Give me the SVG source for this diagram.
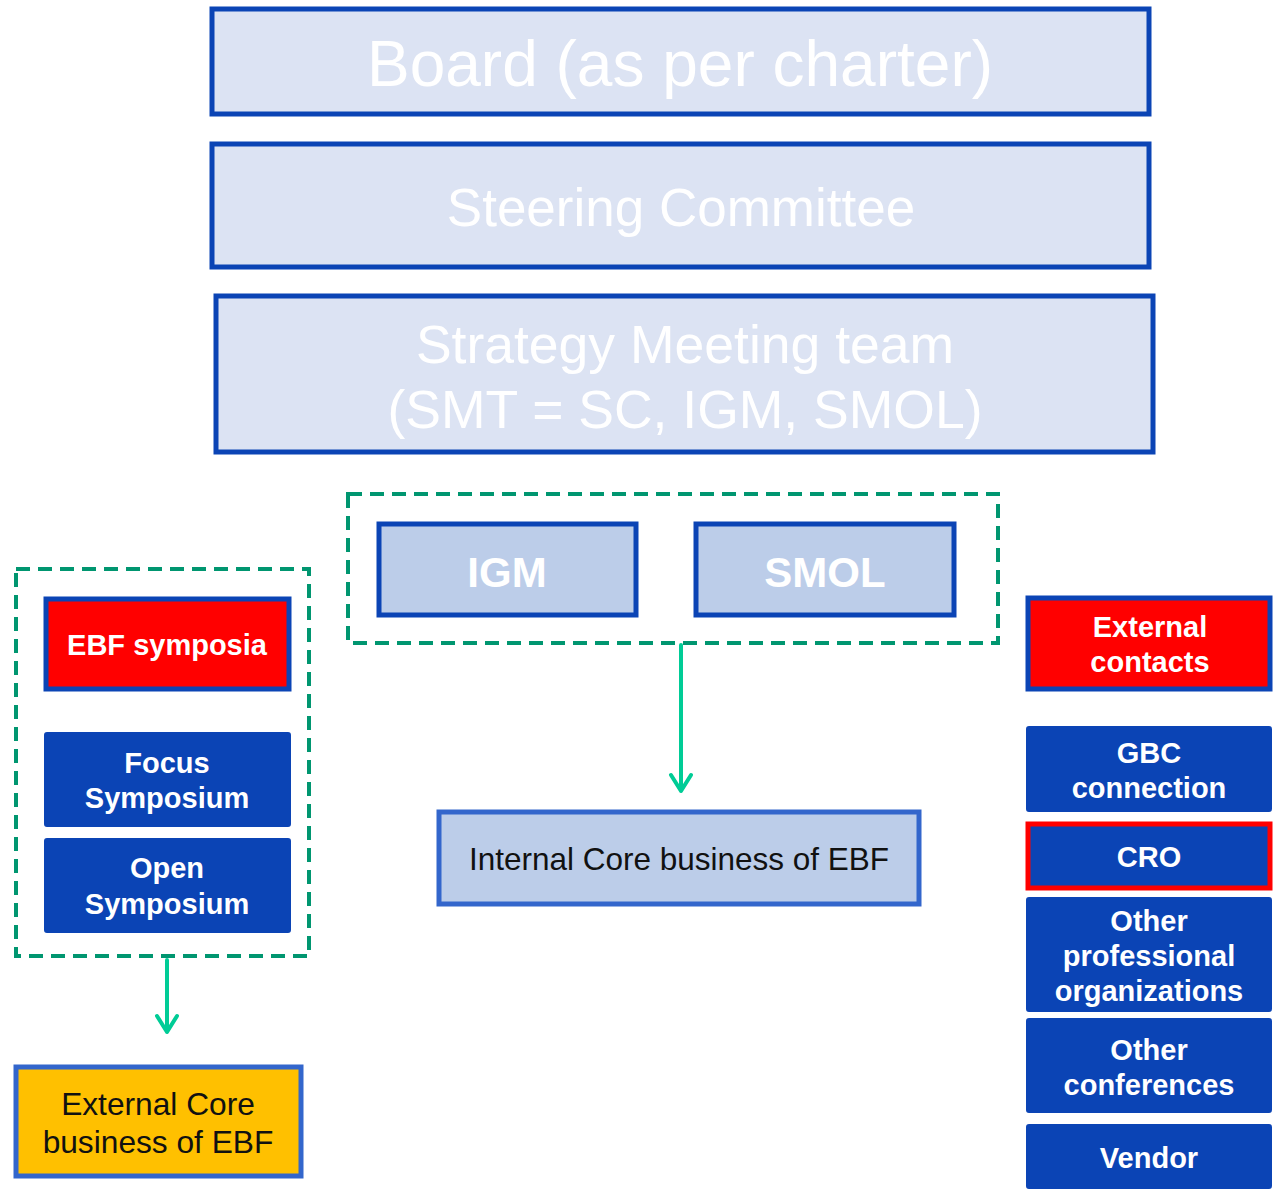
<svg xmlns="http://www.w3.org/2000/svg" width="1277" height="1190" viewBox="0 0 1277 1190">
<defs>
<style>
.big{fill:#dce3f3;stroke:#0b44b5;stroke-width:5}
.lt{fill:#bccde9;stroke:#0b44b5;stroke-width:5}
.bl{fill:#0b44b5;stroke:#0b44b5;stroke-width:2}
.rd{fill:#ff0000;stroke:#0b44b5;stroke-width:5}
.dash{fill:none;stroke:#009670;stroke-width:4;stroke-dasharray:14 8}
.wt{fill:#ffffff;font-family:"Liberation Sans",Arial,sans-serif;text-anchor:middle}
.wb{fill:#ffffff;font-family:"Liberation Sans",Arial,sans-serif;font-weight:bold;text-anchor:middle;font-size:29px}
.bk{fill:#111111;font-family:"Liberation Sans",Arial,sans-serif;text-anchor:middle}
.conn{fill:none;stroke:#00cc96;stroke-width:4;stroke-linecap:round;stroke-linejoin:round}
</style>
</defs>
<rect width="1277" height="1190" fill="#ffffff"/>
<g id="board"><rect class="big" x="212" y="9" width="937" height="105"/><text class="wt" x="680" y="86" font-size="64">Board (as per charter)</text></g>
<g id="steering"><rect class="big" x="212" y="144" width="937" height="123"/><text class="wt" x="681" y="226" font-size="53">Steering Committee</text></g>
<g id="smt"><rect class="big" x="216" y="296" width="937" height="156"/><text class="wt" x="685" y="363" font-size="53.5">Strategy Meeting team</text><text class="wt" x="685" y="428" font-size="53.5">(SMT = SC, IGM, SMOL)</text></g>
<g id="group-mid"><rect class="dash" x="348" y="494" width="650" height="149"/></g>
<g id="igm"><rect class="lt" x="379" y="524" width="257" height="91"/><text class="wb" x="507" y="587" style="font-size:42px">IGM</text></g>
<g id="smol"><rect class="lt" x="696" y="524" width="258" height="91"/><text class="wb" x="825" y="587" style="font-size:42px">SMOL</text></g>
<g id="internal"><rect fill="#bccde9" stroke="#3366cc" stroke-width="5" x="439" y="812" width="480" height="92"/><text class="bk" x="679" y="870" font-size="31.5">Internal Core business of EBF</text></g>
<g id="group-left"><rect class="dash" x="16" y="569" width="293" height="387"/></g>
<g id="ebf"><rect class="rd" x="46" y="599" width="243" height="90"/><text class="wb" x="167" y="655">EBF symposia</text></g>
<g id="focus"><rect class="bl" x="45" y="733" width="245" height="93" rx="2"/><text class="wb" x="167" y="773">Focus</text><text class="wb" x="167" y="808">Symposium</text></g>
<g id="open"><rect class="bl" x="45" y="839" width="245" height="93" rx="2"/><text class="wb" x="167" y="878">Open</text><text class="wb" x="167" y="914">Symposium</text></g>
<g id="external-core"><rect fill="#ffc000" stroke="#3366cc" stroke-width="5" x="16" y="1067" width="285" height="109"/><text class="bk" x="158" y="1115" font-size="31.7">External Core</text><text class="bk" x="158" y="1153" font-size="31.7">business of EBF</text></g>
<g id="ext-contacts"><rect class="rd" x="1028" y="598" width="242" height="91"/><text class="wb" x="1150" y="637">External</text><text class="wb" x="1150" y="672">contacts</text></g>
<g id="gbc"><rect class="bl" x="1027" y="727" width="244" height="84" rx="2"/><text class="wb" x="1149" y="763">GBC</text><text class="wb" x="1149" y="798">connection</text></g>
<g id="cro"><rect fill="#0b44b5" stroke="#ff0000" stroke-width="5" x="1028" y="824" width="242" height="64"/><text class="wb" x="1149" y="867">CRO</text></g>
<g id="other-prof"><rect class="bl" x="1027" y="898" width="244" height="113" rx="2"/><text class="wb" x="1149" y="931">Other</text><text class="wb" x="1149" y="966">professional</text><text class="wb" x="1149" y="1001">organizations</text></g>
<g id="other-conf"><rect class="bl" x="1027" y="1019" width="244" height="93" rx="2"/><text class="wb" x="1149" y="1060">Other</text><text class="wb" x="1149" y="1095">conferences</text></g>
<g id="vendor"><rect class="bl" x="1027" y="1125" width="244" height="63" rx="2"/><text class="wb" x="1149" y="1168">Vendor</text></g>
<g id="connectors">
<path class="conn" d="M681 645 V791 M671 775 L681 791 L691 775"/>
<path class="conn" d="M167 960 V1032 M157 1016 L167 1032 L177 1016"/>
</g>
</svg>
